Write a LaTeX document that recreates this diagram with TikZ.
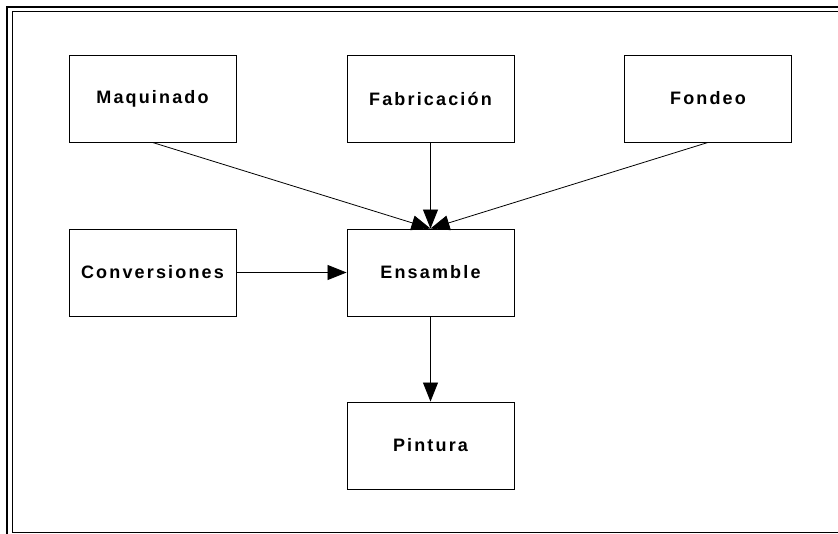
\documentclass[tikz,border=0pt]{standalone}
\usepackage{fontspec}
\setmainfont{Liberation Sans}[LetterSpace=12]
\usetikzlibrary{arrows.meta}
\tikzset{
  box/.style={draw=black, line width=0.9pt, minimum width=167pt, minimum height=87pt, inner sep=0pt, font=\fontsize{18}{20}\selectfont\bfseries},
  conn/.style={draw=black, line width=0.8pt, -{Triangle[length=19pt,width=15pt]}},
  frame/.style={draw=black, line width=1.4pt}
}
\begin{document}
\begin{tikzpicture}[x=1pt,y=-1pt]
\useasboundingbox (0,0) rectangle (838,534);
\clip (0,0) rectangle (838,534);
\draw[frame] (7,7) rectangle (880,537);
\draw[black, line width=0.8pt] (12,11) rectangle (875,532);
\node[box] (maq)  at (152.5,98.5) {Maquinado};
\node[box] (fab)  at (430.5,98.5) {Fabricación};
\node[box] (fon)  at (708,98.5)   {Fondeo};
\node[box] (conv) at (152.5,272.5) {Conversiones};
\node[box] (ens)  at (430.5,272.5) {Ensamble};
\node[box] (pin)  at (430.5,445.5) {Pintura};
\draw[conn] (maq.south) -- (ens.north);
\draw[conn] (fab.south) -- (ens.north);
\draw[conn] (fon.south) -- (ens.north);
\draw[conn] (conv.east) -- (ens.west);
\draw[conn] (ens.south) -- (pin.north);
\end{tikzpicture}
\end{document}
